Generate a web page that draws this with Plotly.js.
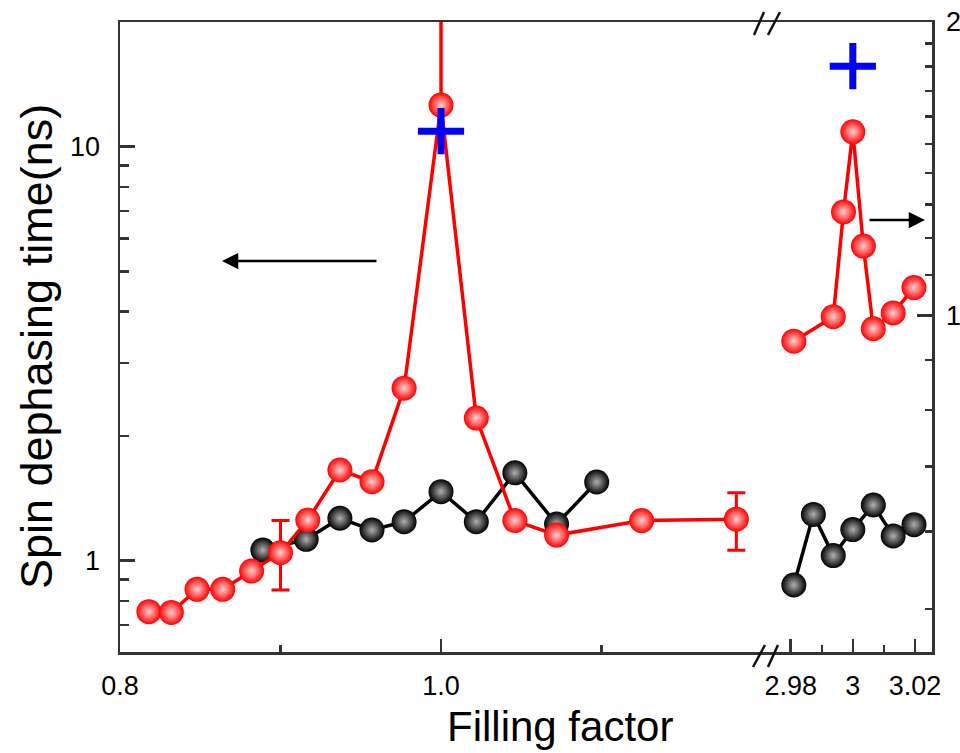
<!DOCTYPE html>
<html>
<head>
<meta charset="utf-8">
<script src="https://cdn.plot.ly/plotly-3.0.1.min.js"></script>
<style>html,body{margin:0;padding:0;background:#fff;}#chart{width:960px;height:753px;}</style>
</head>
<body>
<div id="chart"></div>
<script>
// ---- Data (left segment, left log axis) ----
var redX = [0.818, 0.832, 0.848, 0.864, 0.882, 0.900, 0.917, 0.937, 0.957, 0.977, 1.000, 1.022, 1.046, 1.072, 1.125, 1.184];
var redY = [0.753, 0.750, 0.853, 0.853, 0.944, 1.045, 1.254, 1.656, 1.552, 2.61, 12.6, 2.21, 1.25, 1.153, 1.25, 1.26];
var redErrIdx = [5, 15];
var redErrPlus = [0.205, 0.20];
var redErrMinus = [0.195, 0.20];
var spikeX = [1.000, 1.000];
var spikeY = [12.6, 30];
var blackX = [0.889, 0.916, 0.937, 0.957, 0.977, 1.000, 1.022, 1.046, 1.072, 1.097];
var blackY = [1.061, 1.126, 1.266, 1.186, 1.242, 1.468, 1.242, 1.63, 1.226, 1.549];
var blueX = [1.000];
var blueY = [10.9];

// ---- Data (right segment, right log axis) ----
var red2X = [2.981, 2.9937, 2.997, 3.000, 3.0034, 3.0066, 3.013, 3.0197];
var red2Y = [0.941, 0.997, 1.277, 1.543, 1.178, 0.969, 1.006, 1.068];
var black2X = [2.981, 2.9873, 2.9937, 3.000, 3.0066, 3.013, 3.0197];
var black2Y = [0.529, 0.625, 0.567, 0.603, 0.639, 0.594, 0.610];
var blue2X = [3.000];
var blue2Y = [1.802];

// ---- Tick labels ----
var xTickVals = [0.8, 1.0], xTickText = ['0.8', '1.0'], xMinor = [0.9, 1.1];
var x2TickVals = [2.98, 3.0, 3.02], x2TickText = ['2.98', '3', '3.02'], x2Minor = [2.99, 3.01];
var yTickVals = [1, 10], yTickText = ['1', '10'];
var yMinor = [0.6, 0.7, 0.8, 0.9, 2, 3, 4, 5, 6, 7, 8, 9, 20];
var y2TickVals = [1, 2], y2TickText = ['1', '2'];
var y2Minor = [0.5, 0.6, 0.7, 0.8, 0.9, 1.1, 1.2, 1.3, 1.4, 1.5, 1.6, 1.7, 1.8, 1.9];

var RED = '#ff0000';
var redMarker = {size: 25, color: RED, gradient: {type: 'radial', color: '#ffd0d0'}, line: {width: 0}};
var blackMarker = {size: 25, color: '#000000', gradient: {type: 'radial', color: '#b0b0b0'}, line: {width: 0}};
var blueMarker = {symbol: 'cross-thin', size: 33, color: '#0000ff', line: {width: 7, color: '#0000ff'}};

var errX = redErrIdx.map(function(i){ return redX[i]; });
var errY = redErrIdx.map(function(i){ return redY[i]; });

var traces = [
  {x: spikeX, y: spikeY, mode: 'lines', line: {color: RED, width: 3.5}, xaxis: 'x', yaxis: 'y', hoverinfo: 'skip'},
  {x: errX, y: errY, mode: 'markers', marker: {size: 1, color: RED, opacity: 0},
   error_y: {type: 'data', symmetric: false, array: redErrPlus, arrayminus: redErrMinus, color: RED, thickness: 3, width: 9},
   xaxis: 'x', yaxis: 'y'},
  {x: blackX, y: blackY, mode: 'lines+markers', line: {color: '#000', width: 3.5}, marker: blackMarker, xaxis: 'x', yaxis: 'y'},
  {x: redX, y: redY, mode: 'lines+markers', line: {color: RED, width: 3.5}, marker: redMarker, xaxis: 'x', yaxis: 'y'},
  {x: blueX, y: blueY, mode: 'markers', marker: blueMarker, xaxis: 'x', yaxis: 'y'},
  {x: black2X, y: black2Y, mode: 'lines+markers', line: {color: '#000', width: 3.5}, marker: blackMarker, xaxis: 'x2', yaxis: 'y2'},
  {x: red2X, y: red2Y, mode: 'lines+markers', line: {color: RED, width: 3.5}, marker: redMarker, xaxis: 'x2', yaxis: 'y2'},
  {x: blue2X, y: blue2Y, mode: 'markers', marker: blueMarker, xaxis: 'x2', yaxis: 'y2'}
];

var FONT = 'Liberation Sans, Arial, sans-serif';
var tickFont = {family: FONT, size: 27, color: '#000'};
var axisCommon = {showgrid: false, zeroline: false, showline: true, linecolor: '#333', linewidth: 2.5,
  ticks: 'inside', tickcolor: '#333', tickwidth: 2.5, tickfont: tickFont, tickmode: 'array'};

var layout = {
  width: 960, height: 753,
  margin: {l: 120, r: 28, t: 22, b: 101, pad: 0},
  paper_bgcolor: '#fff', plot_bgcolor: '#fff',
  showlegend: false,
  font: {family: FONT, color: '#000'},
  xaxis: Object.assign({}, axisCommon, {domain: [0, 0.7956], range: [0.8, 1.2025], anchor: 'y',
    tickvals: xTickVals, ticktext: xTickText, ticklen: 13, mirror: true, ticklabelstandoff: 8,
    minor: {tickmode: 'array', tickvals: xMinor, ticks: 'inside', ticklen: 7, tickwidth: 2.5, tickcolor: '#333'}}),
  yaxis: Object.assign({}, axisCommon, {type: 'log', range: [-0.2205, 1.301], anchor: 'x', side: 'left',
    tickvals: yTickVals, ticktext: yTickText, ticklen: 15, mirror: false, ticklabelstandoff: 12,
    minor: {tickmode: 'array', tickvals: yMinor, ticks: 'inside', ticklen: 9, tickwidth: 2.5, tickcolor: '#333'}}),
  xaxis2: Object.assign({}, axisCommon, {domain: [0.7956, 1], range: [2.97205, 3.0255], anchor: 'y2',
    tickvals: x2TickVals, ticktext: x2TickText, ticklen: 13, mirror: true, ticklabelstandoff: 8,
    minor: {tickmode: 'array', tickvals: x2Minor, ticks: 'inside', ticklen: 7, tickwidth: 2.5, tickcolor: '#333'}}),
  yaxis2: Object.assign({}, axisCommon, {type: 'log', range: [-0.3453, 0.30103], anchor: 'x2', side: 'right',
    tickvals: y2TickVals, ticktext: y2TickText, ticklen: 15, mirror: false, ticklabelstandoff: 6,
    minor: {tickmode: 'array', tickvals: y2Minor, ticks: 'inside', ticklen: 7, tickwidth: 2.5, tickcolor: '#333'}}),
  shapes: [
    {type: 'line', xref: 'paper', yref: 'paper', x0: 0.7808, y0: 0.9794, x1: 0.7931, y1: 1.0159, line: {color: '#111', width: 2.5}},
    {type: 'line', xref: 'paper', yref: 'paper', x0: 0.7980, y0: 0.9794, x1: 0.8128, y1: 1.0159, line: {color: '#111', width: 2.5}},
    {type: 'line', xref: 'paper', yref: 'paper', x0: 0.7796, y0: -0.0238, x1: 0.7943, y1: 0.0111, line: {color: '#111', width: 2.5}},
    {type: 'line', xref: 'paper', yref: 'paper', x0: 0.7980, y0: -0.0238, x1: 0.8103, y1: 0.0111, line: {color: '#111', width: 2.5}}
  ],
  annotations: [
    {text: 'Filling factor', xref: 'paper', yref: 'paper', x: 0.5415, y: -0.1595, xanchor: 'center', yanchor: 'bottom',
     showarrow: false, font: {family: FONT, size: 42, color: '#000'}},
    {text: 'Spin dephasing time(ns)', xref: 'paper', yref: 'paper', x: -0.1034, y: 0.484, xanchor: 'center', yanchor: 'middle',
     textangle: -90, showarrow: false, font: {family: FONT, size: 45, color: '#000'}},
    {text: '', xref: 'paper', yref: 'paper', x: 0.1256, y: 0.6206, ax: 156, ay: 0, axref: 'pixel', ayref: 'pixel',
     showarrow: true, arrowhead: 2, arrowsize: 1.3, arrowwidth: 2.5, arrowcolor: '#000'},
    {text: '', xref: 'paper', yref: 'paper', x: 0.9914, y: 0.6857, ax: -57, ay: 0, axref: 'pixel', ayref: 'pixel',
     showarrow: true, arrowhead: 2, arrowsize: 1.3, arrowwidth: 2.5, arrowcolor: '#000'}
  ]
};

Plotly.newPlot('chart', traces, layout, {staticPlot: true, displayModeBar: false});
</script>
</body>
</html>
